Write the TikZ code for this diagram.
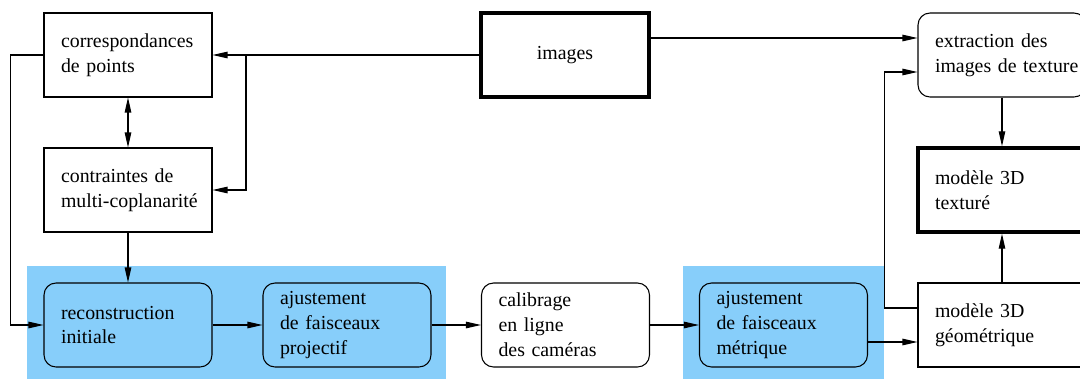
\documentclass[tikz,border=0pt]{standalone}
\usepackage{fontspec}
\setmainfont{Liberation Serif}
\usetikzlibrary{arrows.meta}
\definecolor{bleuciel}{RGB}{135,206,250}

\begin{document}
\begin{tikzpicture}[x=0.02cm, y=-0.02cm, >={Triangle[length=0.3cm,width=0.13cm]},
  boite/.style={draw, line width=0.6pt, minimum width=3.36cm, minimum height=1.68cm,
    text width=2.68cm, inner xsep=0.34cm, inner ysep=0pt, align=left,
    font=\fontsize{11.3}{14.2}\selectfont},
  ronde/.style={boite, rounded corners=0.24cm},
  epaisse/.style={boite, line width=2pt},
  fleche/.style={->, line width=0.6pt}]
\useasboundingbox (0,0) rectangle (1080,379);
\fill[bleuciel] (27,266) rectangle (446,379);
\fill[bleuciel] (683,266) rectangle (884,379);

\node[boite] (corresp) at (128,55) {correspondances\\de points};
\node[boite] (contraintes) at (128,190) {contraintes de\\\mbox{multi-coplanarité}};
\node[epaisse, align=center] (images) at (565,55) {images};
\node[ronde] (extraction) at (1002,55) {extraction des\\\mbox{images de texture}};
\node[epaisse] (texture) at (1002,190) {modèle 3D\\texturé};
\node[boite] (geometrique) at (1002,325) {modèle 3D\\géométrique};
\node[ronde, fill=bleuciel] (reconstr) at (128,325) {reconstruction\\initiale};
\node[ronde, fill=bleuciel] (projectif) at (347,325) {ajustement\\de faisceaux\\projectif};
\node[ronde] (calibrage) at (565.5,325) {calibrage\\en ligne\\des caméras};
\node[ronde, fill=bleuciel] (metrique) at (783.5,325) {ajustement\\de faisceaux\\métrique};
\coordinate (branche) at (246,55);

\draw[fleche] (images) -- (corresp);
\draw[fleche] (branche) |- (contraintes);
\draw[fleche, <->] (corresp) -- (contraintes);
\draw[fleche] (contraintes) -- (reconstr);
\draw[fleche] (corresp.west) -- ++(-33,0) |- (reconstr.west);
\draw[fleche] (reconstr) -- (projectif);
\draw[fleche] (projectif) -- (calibrage);
\draw[fleche] (calibrage) -- (metrique);
\draw[fleche] ([yshift=-0.34cm]metrique.east) -- ([yshift=-0.34cm]geometrique.west);
\draw[fleche] ([yshift=0.34cm]geometrique.west) -- ++(-33,0) |- ([yshift=-0.34cm]extraction.west);
\draw[fleche] ([yshift=0.34cm]images.east) -- ([yshift=0.34cm]extraction.west);
\draw[fleche] (extraction) -- (texture);
\draw[fleche] (geometrique) -- (texture);
\end{tikzpicture}
\end{document}
